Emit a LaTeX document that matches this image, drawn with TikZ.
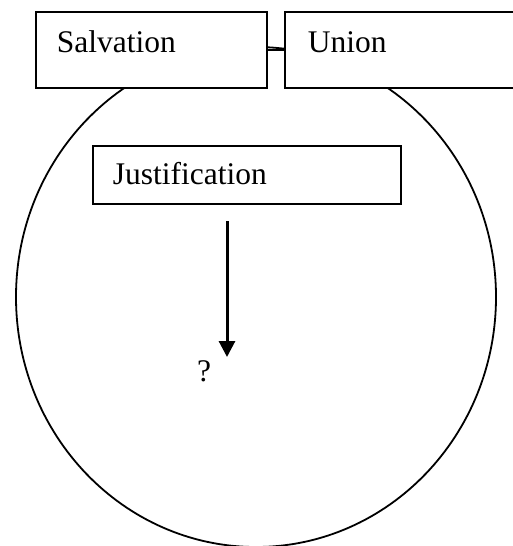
\documentclass[tikz,border=0pt]{standalone}
\usepackage{fontspec}
\setmainfont{Liberation Serif}
\usetikzlibrary{arrows.meta}
\begin{document}
\begin{tikzpicture}[x=1pt,y=-1pt,
  every node/.style={font=\fontsize{31.5}{36}\selectfont},
  boxnode/.style={draw=black,fill=white,line width=1.8pt,anchor=north west,inner ysep=0pt,align=left},
  link/.style={line width=1.8pt},
  flowarrow/.style={line width=3pt,-{Triangle[length=16pt,width=16pt]}}
]
\useasboundingbox (0,0) rectangle (513,546);
\draw[line width=1.8pt] (256,297) ellipse [x radius=240pt, y radius=250pt];
\node[boxnode,inner xsep=21pt,text width=189pt,text height=41pt,text depth=35pt] (sal) at (35,11) {Salvation};
\node[boxnode,inner xsep=23pt,text width=210pt,text height=41pt,text depth=35pt] (uni) at (284,11) {Union};
\draw[link] (sal.east) -- (uni.west);
\node[boxnode,inner xsep=20pt,text width=268pt,text height=39pt,text depth=19pt] (just) at (92,145) {Justification};
\coordinate (atop) at (227,221);
\coordinate (abot) at (227,357);
\draw[flowarrow] (atop) -- (abot);
\node[anchor=base,inner sep=0pt] (q) at (204,381) {?};
\end{tikzpicture}
\end{document}
